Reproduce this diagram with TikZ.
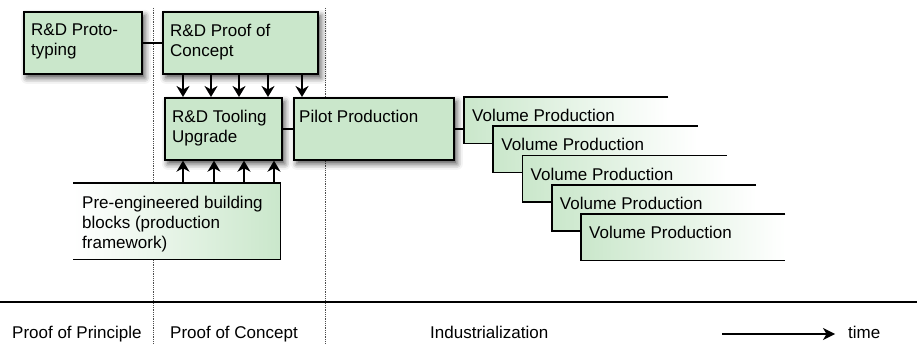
\documentclass[tikz,border=0pt]{standalone}
\usepackage{fontspec}
\setmainfont{Liberation Sans}
\usetikzlibrary{arrows.meta,shadows.blur}
\definecolor{boxgreen}{RGB}{202,231,203}

\begin{document}
\begin{tikzpicture}[x=1pt, y=-1pt,
  font=\fontsize{17}{20}\selectfont,
  box/.style={draw, line width=1.7pt, fill=boxgreen, anchor=north west,
    blur shadow={shadow xshift=3pt, shadow yshift=-4pt, shadow blur radius=6pt, shadow opacity=70}},
  openbox/.style={anchor=north west, inner sep=0pt},
  txt/.style={anchor=north west, inner sep=0pt, align=left},
  edge/.style={line width=1.6pt},
  arr/.style={line width=1.6pt, -{Stealth[length=11pt, width=13pt, inset=3.5pt]}},
  phase/.style={anchor=base west, inner sep=0pt},
  sep/.style={densely dotted, line width=0.8pt, black!70}]
  \useasboundingbox (0,0) rectangle (917,344);

  % Phase separators and time axis
  \draw[sep] (153,8) -- (153,344);
  \draw[sep] (325,8) -- (325,344);
  \draw[edge] (0,302) -- (917,302);

  % R&D boxes
  \node[box, minimum width=118pt, minimum height=62pt] (proto) at (23,11) {};
  \node[txt] (protoT) at ([shift={(8,13)}]proto.north west) {R\&D Proto-\\typing};
  \node[box, minimum width=155pt, minimum height=62pt] (concept) at (162,11) {};
  \node[txt] (conceptT) at ([shift={(8,13)}]concept.north west) {R\&D Proof of\\Concept};
  \node[box, minimum width=117pt, minimum height=62pt] (tooling) at (164,97) {};
  \node[txt] (toolingT) at ([shift={(8,13)}]tooling.north west) {R\&D Tooling\\Upgrade};
  \node[box, minimum width=160pt, minimum height=62pt] (pilot) at (293,97) {};
  \node[txt] (pilotT) at ([shift={(6,13)}]pilot.north west) {Pilot Production};

  % Building blocks
  \node[openbox, left color=white, right color=boxgreen, minimum width=207pt, minimum height=76pt] (blocks) at (73,183) {};
  \draw[edge] (blocks.north west) -| (blocks.south east) -- (blocks.south west);
  \node[txt] (blocksT) at ([shift={(9,13)}]blocks.north west) {Pre-engineered building\\blocks (production\\framework)};

  % Volume production
  \foreach \i in {0,...,4} {
    \node[openbox, left color=boxgreen, right color=white, minimum width=204pt, minimum height=46pt] (vol\i) at ({464+29.25*\i},{97+29.25*\i}) {};
    \draw[edge] (vol\i.north east) -| (vol\i.south west) -- (vol\i.south east);
    \node[txt] (volT\i) at ([shift={(8,12)}]vol\i.north west) {Volume Production};
  }

  % Connections
  \draw[edge] (proto.east) -- (concept.west);
  \draw[edge] (tooling.east) -- (pilot.west);
  \draw[edge] (pilot.east) -- (pilot.east -| vol0.west);
  \foreach \x in {183,211,239,268}
    \draw[arr] (\x,0 |- concept.south) -- (\x,0 |- tooling.north);
  \draw[arr] (302,0 |- concept.south) -- (302,0 |- pilot.north);
  \foreach \x in {183,214,244,274}
    \draw[arr] (\x,0 |- blocks.north) -- (\x,0 |- tooling.south);

  % Phases
  \node[phase] (principle) at (12,338) {Proof of Principle};
  \node[phase] (poc) at (170,338) {Proof of Concept};
  \node[phase] (industrial) at (430,338) {Industrialization};
  \node[phase] (time) at (848,338) {time};
  \coordinate (tstart) at (722,334);
  \coordinate (tend) at (835,334);
  \draw[line width=1.6pt, -{Stealth[length=12pt, width=12pt, inset=3.5pt]}] (tstart) -- (tend);
\end{tikzpicture}
\end{document}
